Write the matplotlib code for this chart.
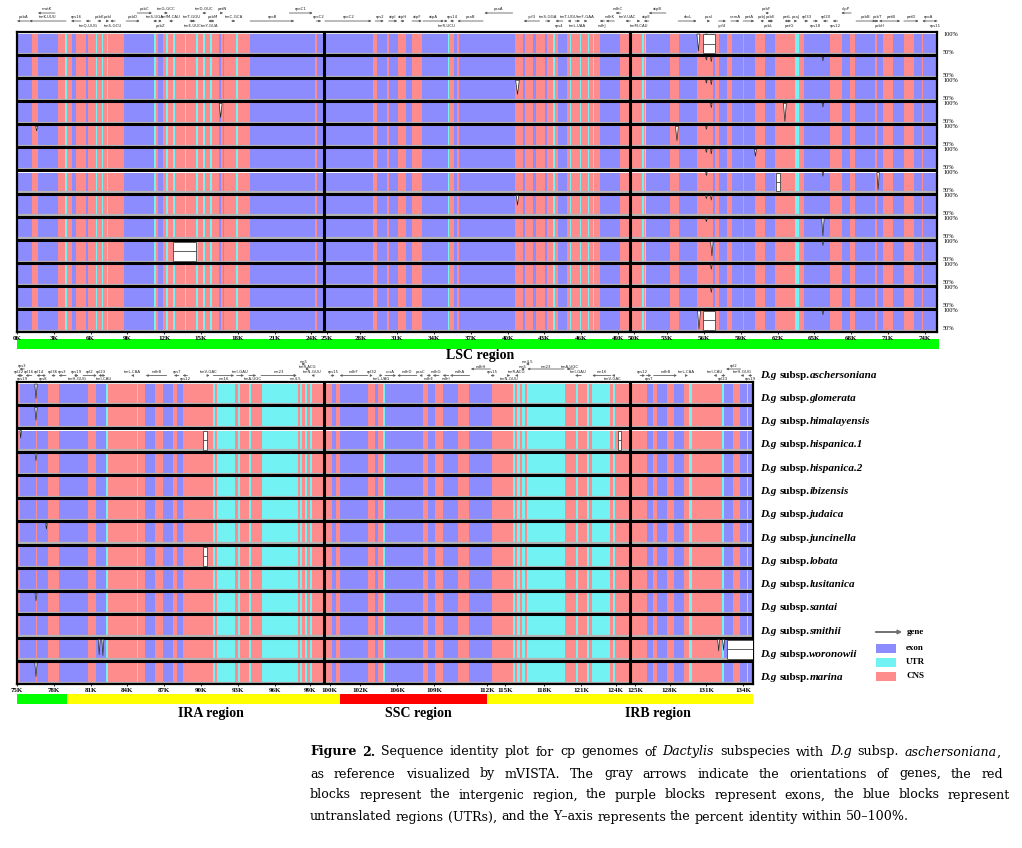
import re
import matplotlib
matplotlib.use('Agg')
import matplotlib.pyplot as plt
from matplotlib.patches import Rectangle, Polygon, FancyArrowPatch

W, H = 1022, 848

# ---- data: conserved blocks (start kb, end kb, kind) E=exon U=UTR C=CNS
top_segs = [
    (0.0, 1.2, 'E'), (1.2, 1.7, 'C'), (1.7, 3.35, 'E'), (3.35, 3.9, 'C'), (3.9, 4.05, 'U'),
    (4.05, 4.5, 'C'), (4.5, 4.8, 'E'), (4.8, 5.6, 'C'), (5.6, 5.8, 'E'), (5.8, 6.45, 'C'),
    (6.45, 6.55, 'U'), (6.55, 6.95, 'C'), (6.95, 7.05, 'U'), (7.05, 7.35, 'C'), (7.35, 7.45, 'U'),
    (7.45, 8.7, 'C'), (8.7, 11.15, 'E'), (11.15, 11.3, 'U'), (11.3, 11.5, 'C'), (11.5, 11.9, 'E'),
    (11.9, 12.15, 'C'), (12.15, 12.3, 'U'), (12.3, 12.7, 'C'), (12.7, 12.9, 'U'), (12.9, 13.7, 'C'),
    (13.7, 13.8, 'U'), (13.8, 14.6, 'C'), (14.6, 14.75, 'U'), (14.75, 15.15, 'C'), (15.15, 15.3, 'U'),
    (15.3, 15.75, 'C'), (15.75, 15.9, 'U'), (15.9, 16.45, 'C'), (16.45, 16.6, 'E'), (16.6, 16.8, 'C'),
    (16.8, 16.9, 'E'), (16.9, 17.85, 'C'), (17.85, 18.0, 'U'), (18.0, 19.0, 'C'), (19.0, 24.3, 'E'),
    (24.3, 24.45, 'C'), (24.45, 29.0, 'E'), (29.0, 29.35, 'C'), (29.35, 30.15, 'E'), (30.15, 30.3, 'C'),
    (30.3, 31.1, 'E'), (31.1, 31.7, 'C'), (31.7, 32.2, 'E'), (32.2, 33.0, 'C'), (33.0, 35.1, 'E'),
    (35.1, 35.25, 'U'), (35.25, 35.6, 'C'), (35.6, 35.85, 'E'), (35.85, 36.0, 'C'), (36.0, 40.6, 'E'),
    (40.6, 41.25, 'C'), (41.25, 41.4, 'E'), (41.4, 42.05, 'C'), (42.05, 42.3, 'E'), (42.3, 43.05, 'C'),
    (43.05, 43.2, 'E'), (43.2, 43.7, 'C'), (43.7, 43.85, 'U'), (43.85, 44.1, 'C'), (44.1, 44.85, 'E'),
    (44.85, 45.05, 'C'), (45.05, 45.2, 'U'), (45.2, 45.9, 'C'), (45.9, 46.0, 'U'), (46.0, 46.55, 'C'),
    (46.55, 46.65, 'U'), (46.65, 46.95, 'C'), (46.95, 47.05, 'U'), (47.05, 47.5, 'C'), (47.5, 49.15, 'E'),
    (49.15, 50.95, 'C'), (50.95, 51.1, 'U'), (51.1, 51.2, 'C'), (51.2, 51.3, 'U'), (51.3, 53.2, 'E'),
    (53.2, 53.95, 'C'), (53.95, 55.4, 'E'), (55.4, 56.75, 'C'), (56.75, 56.9, 'E'), (56.9, 57.2, 'C'),
    (57.2, 57.85, 'E'), (57.85, 58.25, 'C'), (58.25, 59.15, 'E'), (59.15, 59.25, 'C'), (59.25, 60.15, 'E'),
    (60.15, 60.95, 'C'), (60.95, 61.8, 'E'), (61.8, 63.4, 'C'), (63.4, 63.75, 'U'), (63.75, 64.15, 'C'),
    (64.15, 66.25, 'E'), (66.25, 67.25, 'C'), (67.25, 67.9, 'E'), (67.9, 68.3, 'C'), (68.3, 69.95, 'E'),
    (69.95, 70.1, 'C'), (70.1, 70.6, 'E'), (70.6, 71.45, 'C'), (71.45, 72.35, 'E'), (72.35, 73.1, 'C'),
    (73.1, 73.75, 'E'), (73.75, 73.85, 'C'), (73.85, 75.0, 'E'),
]

bot_segs = [
    (75.0, 75.25, 'C'), (75.25, 76.55, 'E'), (76.55, 76.65, 'C'), (76.65, 77.55, 'E'), (77.55, 78.4, 'C'),
    (78.4, 80.8, 'E'), (80.8, 81.45, 'C'), (81.45, 82.25, 'E'), (82.25, 82.4, 'U'), (82.4, 84.8, 'C'),
    (84.8, 84.9, 'U'), (84.9, 85.45, 'C'), (85.45, 86.25, 'E'), (86.25, 86.9, 'C'), (86.9, 87.7, 'E'),
    (87.7, 88.05, 'C'), (88.05, 88.55, 'E'), (88.55, 91.0, 'C'), (91.0, 91.15, 'U'), (91.15, 91.3, 'C'),
    (91.3, 92.75, 'U'), (92.75, 93.0, 'C'), (93.0, 93.15, 'U'), (93.15, 93.9, 'C'), (93.9, 94.05, 'U'),
    (94.05, 94.95, 'C'), (94.95, 97.9, 'U'), (97.9, 98.05, 'C'), (98.05, 98.2, 'U'), (98.2, 98.45, 'C'),
    (98.45, 98.65, 'U'), (98.65, 98.9, 'C'), (98.9, 99.05, 'U'), (99.05, 100.65, 'C'), (100.65, 101.0, 'E'),
    (101.0, 101.3, 'C'), (101.3, 103.6, 'E'), (103.6, 104.2, 'C'), (104.2, 104.4, 'E'), (104.4, 104.85, 'C'),
    (104.85, 105.0, 'U'), (105.0, 108.1, 'E'), (108.1, 108.5, 'C'), (108.5, 109.05, 'E'), (109.05, 109.7, 'C'),
    (109.7, 110.95, 'E'), (110.95, 111.85, 'C'), (111.85, 113.7, 'E'), (113.7, 115.4, 'C'), (115.4, 115.6, 'U'),
    (115.6, 115.8, 'C'), (115.8, 116.0, 'U'), (116.0, 116.15, 'C'), (116.15, 116.4, 'U'), (116.4, 116.55, 'C'),
    (116.55, 119.65, 'U'), (119.65, 120.55, 'C'), (120.55, 120.7, 'U'), (120.7, 121.45, 'C'), (121.45, 121.6, 'U'),
    (121.6, 121.85, 'C'), (121.85, 123.35, 'U'), (123.35, 123.55, 'C'), (123.55, 123.75, 'U'), (123.75, 126.35, 'C'),
    (126.35, 126.85, 'E'), (126.85, 127.15, 'C'), (127.15, 127.95, 'E'), (127.95, 128.55, 'C'), (128.55, 129.35, 'E'),
    (129.35, 129.75, 'C'), (129.75, 130.0, 'U'), (130.0, 132.45, 'C'), (132.45, 132.6, 'U'), (132.6, 133.35, 'E'),
    (133.35, 133.9, 'C'), (133.9, 134.5, 'E'), (134.5, 134.6, 'U'), (134.6, 135.0, 'E'),
]

# narrow drops in identity: (row, position kb, half width kb, lowest %)
top_dips = [
    (3, 62.6, 0.12, 52), (4, 53.8, 0.12, 62), (5, 60.2, 0.08, 82), (6, 70.2, 0.1, 55),
    (8, 65.7, 0.1, 55), (9, 56.65, 0.1, 62), (2, 40.8, 0.15, 62), (7, 40.8, 0.1, 75),
    (0, 55.55, 0.12, 55), (12, 55.6, 0.12, 52), (3, 16.6, 0.12, 62), (4, 1.6, 0.08, 88),
    (0, 56.2, 0.06, 92), (1, 56.2, 0.06, 92), (2, 56.2, 0.06, 92), (4, 56.2, 0.06, 92),
    (5, 56.2, 0.06, 92), (6, 56.2, 0.06, 92), (7, 56.2, 0.06, 92), (8, 56.2, 0.06, 92),
    (1, 56.6, 0.06, 88), (2, 56.6, 0.06, 88), (3, 56.6, 0.06, 88), (5, 56.6, 0.06, 88),
    (7, 56.6, 0.06, 88), (10, 56.6, 0.06, 88), (11, 56.6, 0.06, 88), (12, 65.7, 0.06, 90),
    (1, 65.7, 0.06, 90), (3, 65.7, 0.06, 90), (6, 65.7, 0.06, 90), (9, 65.7, 0.06, 90),
]
top_gaps = [(0, 55.95, 56.9), (9, 12.7, 14.6), (12, 55.95, 56.9), (6, 61.85, 62.2)]

bot_dips = [
    (0, 76.55, 0.1, 62), (1, 76.55, 0.1, 66), (3, 76.55, 0.08, 82), (9, 76.55, 0.08, 80),
    (12, 76.55, 0.1, 64), (11, 81.7, 0.08, 60), (11, 82.0, 0.08, 58), (11, 132.2, 0.08, 70),
    (11, 132.6, 0.08, 72), (6, 77.4, 0.06, 85), (2, 75.3, 0.06, 80),
]
bot_gaps = [(2, 90.2, 90.45), (7, 90.2, 90.45), (2, 124.0, 124.25), (11, 132.9, 135.0)]

# tick label positions (labels sit a little off the segment joins)
top_ticks = [0, 3, 6, 9, 12, 15, 18, 21, 24, 25.3, 28, 31, 34, 37, 40, 43, 46, 49, 50.3, 53, 56,
             59, 62, 65, 68, 71, 74]
top_tick_labels = ['0K', '3K', '6K', '9K', '12K', '15K', '18K', '21K', '24K', '25K', '28K', '31K',
                   '34K', '37K', '40K', '43K', '46K', '49K', '50K', '53K', '56K', '59K', '62K',
                   '65K', '68K', '71K', '74K']
bot_ticks = [75, 78, 81, 84, 87, 90, 93, 96, 98.9, 100.5, 103, 106, 109, 113.3, 114.8, 118, 121,
             123.8, 125.4, 128.2, 131.2, 134.2]
bot_tick_labels = ['75K', '78K', '81K', '84K', '87K', '90K', '93K', '96K', '99K', '100K', '102K',
                   '106K', '109K', '112K', '115K', '118K', '121K', '124K', '125K', '128K', '131K',
                   '134K']

# genes: (name, start kb, end kb, level, strand)
top_genes = [
    ('psbA', 0.0, 1.0, 1, -1), ('matK', 1.7, 3.1, 2, -1), ('trnK-UUU', 1.0, 4.0, 1, -1),
    ('rps16', 4.4, 5.2, 1, -1), ('trnQ-UUG', 5.6, 6.0, 0, -1), ('psbK', 6.6, 6.9, 1, 1),
    ('psbI', 7.3, 7.5, 1, 1), ('trnS-GCU', 7.6, 8.0, 0, -1), ('psbD', 8.9, 10.0, 1, 1),
    ('psbC', 9.8, 11.0, 2, 1), ('trnS-UGA', 11.1, 11.4, 1, -1), ('psbZ', 11.6, 11.8, 0, 1),
    ('trnG-GCC', 12.0, 12.3, 2, 1), ('trnfM-CAU', 12.4, 12.7, 1, -1), ('trnT-GGU', 14.1, 14.4, 1, 1),
    ('trnE-UUC', 14.2, 14.5, 0, -1), ('trnY-GUA', 15.6, 15.8, 0, -1), ('trnD-GUC', 15.1, 15.4, 2, -1),
    ('psbM', 15.9, 16.1, 1, 1), ('petN', 16.6, 16.8, 2, 1), ('trnC-GCA', 17.5, 17.8, 1, 1),
    ('rpoB', 19.0, 22.6, 1, 1), ('rpoC1', 22.2, 24.1, 2, 1), ('rpoC2', 24.4, 24.8, 1, 1),
    ('rpoC2', 25.1, 28.9, 1, 1), ('rps2', 29.2, 29.9, 1, 1), ('atpI', 30.3, 31.0, 1, 1),
    ('atpH', 31.3, 31.6, 1, 1), ('atpF', 32.2, 33.0, 1, 1), ('atpA', 33.1, 34.8, 1, 1),
    ('trnR-UCU', 34.9, 35.1, 0, 1), ('rps14', 35.3, 35.6, 1, -1), ('psaB', 35.9, 38.0, 1, -1),
    ('psaA', 38.1, 40.4, 2, -1), ('ycf3', 41.3, 42.6, 1, -1), ('trnS-GGA', 43.1, 43.5, 1, 1),
    ('rps4', 43.9, 44.5, 0, -1), ('trnT-UGU', 44.9, 45.1, 1, -1), ('trnL-UAA', 45.5, 45.9, 0, 1),
    ('trnF-GAA', 46.3, 46.5, 1, 1), ('ndhJ', 47.5, 47.9, 0, -1), ('ndhK', 48.0, 48.7, 1, -1),
    ('ndhC', 48.8, 49.2, 2, -1), ('trnV-UAC', 49.6, 50.0, 1, -1), ('trnM-CAU', 50.6, 50.8, 0, 1),
    ('atpE', 51.1, 51.5, 1, -1), ('atpB', 51.5, 52.9, 2, -1), ('rbcL', 53.9, 55.4, 1, 1),
    ('psaI', 56.3, 56.5, 1, 1), ('ycf4', 57.2, 57.8, 0, 1), ('cemA', 58.2, 58.9, 1, 1),
    ('petA', 59.2, 60.1, 1, 1), ('psbJ', 60.6, 60.8, 1, -1), ('psbF', 61.0, 61.2, 2, -1),
    ('psbL', 61.2, 61.3, 0, -1), ('psbE', 61.3, 61.6, 1, -1), ('petL', 62.7, 62.9, 1, 1),
    ('petG', 62.9, 63.1, 0, 1), ('psaJ', 63.4, 63.6, 1, 1), ('rpl33', 64.2, 64.5, 1, 1),
    ('rps18', 64.9, 65.3, 0, 1), ('rpl20', 65.7, 66.1, 1, -1), ('rps12', 66.5, 66.9, 0, -1),
    ('clpP', 67.2, 68.0, 2, -1), ('psbB', 68.4, 70.0, 1, 1), ('psbT', 70.1, 70.2, 1, 1),
    ('psbH', 70.3, 70.4, 0, -1), ('petB', 70.6, 72.0, 1, 1), ('petD', 72.3, 73.5, 1, 1),
    ('rpoA', 73.8, 74.7, 1, -1), ('rps11', 74.7, 75.0, 0, -1),
]
bot_genes = [
    ('rpl22', 75.0, 75.3, 1, -1), ('rps3', 75.2, 75.6, 2, -1), ('rps19', 75.3, 75.5, 0, 1),
    ('rpl16', 75.7, 76.2, 1, -1), ('rpl14', 76.6, 77.0, 1, -1), ('rps8', 77.0, 77.3, 0, -1),
    ('rpl36', 77.8, 78.1, 1, -1), ('rps3', 78.4, 79.0, 1, -1), ('rps19', 79.7, 80.0, 1, 1),
    ('trnH-GUG', 79.8, 80.0, 0, 1), ('rpl2', 80.4, 81.5, 1, 1), ('rpl23', 81.7, 82.0, 1, 1),
    ('trnI-CAU', 82.0, 82.2, 0, 1), ('trnL-CAA', 84.3, 84.5, 1, -1), ('ndhB', 85.5, 87.2, 1, -1),
    ('rps7', 87.8, 88.2, 1, -1), ('rps12', 88.5, 88.9, 0, -1), ('trnV-GAC', 90.5, 90.7, 1, 1),
    ('rrn16', 91.0, 92.7, 0, 1), ('trnI-GAU', 92.9, 93.5, 1, 1), ('trnA-UGC', 93.9, 94.5, 0, 1),
    ('rrn23', 94.9, 97.8, 1, 1), ('rrn4.5', 97.6, 97.8, 0, 1), ('rrn5', 98.3, 98.5, 3, 1),
    ('trnR-ACG', 98.6, 98.8, 2, 1), ('trnN-GUU', 99.0, 99.2, 1, -1), ('rps15', 100.6, 100.9, 1, 1),
    ('ndhF', 101.3, 103.6, 1, -1), ('rpl32', 103.8, 104.0, 1, 1), ('trnL-UAG', 104.6, 104.8, 0, 1),
    ('ccsA', 105.0, 105.9, 1, 1), ('ndhD', 106.0, 107.6, 1, -1), ('psaC', 107.8, 108.0, 1, -1),
    ('ndhE', 108.4, 108.7, 0, -1), ('ndhG', 108.9, 109.4, 1, -1), ('ndhI', 109.7, 110.2, 0, -1),
    ('ndhA', 110.3, 111.9, 1, -1), ('ndhH', 112.0, 113.6, 2, -1), ('rps15', 113.6, 113.9, 1, -1),
    ('trnN-GUU', 115.0, 115.2, 0, 1), ('trnR-ACG', 115.6, 115.8, 1, -1), ('rrn5', 116.1, 116.3, 2, -1),
    ('rrn4.5', 116.5, 116.7, 3, -1), ('rrn23', 116.6, 119.6, 2, -1), ('trnA-UGC', 119.8, 120.4, 2, -1),
    ('trnI-GAU', 120.5, 121.0, 1, -1), ('rrn16', 121.9, 123.4, 1, -1), ('trnV-GAC', 123.5, 123.7, 0, -1),
    ('rps12', 125.8, 126.2, 1, 1), ('rps7', 126.3, 126.7, 0, 1), ('ndhB', 126.9, 128.8, 1, 1),
    ('trnL-CAA', 129.5, 129.7, 1, 1), ('trnI-CAU', 131.8, 132.0, 1, -1), ('rpl23', 132.4, 132.7, 0, -1),
    ('rpl2', 132.8, 134.0, 2, -1), ('trnH-GUG', 134.0, 134.2, 1, -1), ('rps19', 134.6, 134.9, 0, -1),
]

species = ['aschersoniana', 'glomerata', 'himalayensis', 'hispanica.1', 'hispanica.2', 'ibizensis',
           'judaica', 'juncinella', 'lobata', 'lusitanica', 'santai', 'smithii', 'woronowii', 'marina']

caption = [
    "**Figure 2.** Sequence identity plot for cp genomes of *Dactylis* subspecies with *D.g* subsp. *aschersoniana*,",
    "as reference visualized by mVISTA. The gray arrows indicate the orientations of genes, the red",
    "blocks represent the intergenic region, the purple blocks represent exons, the blue blocks represent",
    "untranslated regions (UTRs), and the Y\u2013axis represents the percent identity within 50\u2013100%.",
]

COLORS = {'E': '#8c8cff', 'U': '#72f2f2', 'C': '#ff8c8c'}
SERIF = 'Liberation Serif'
CAP_FONT = 'DejaVu Serif'
NROW = 13


def fx(px):
    return px / W


def fy(py):
    return 1 - py / H


def ident_y(r, pct):
    return r + 0.09 + (100 - pct) / 50.0 * 0.82


def draw_panel(ax, segs, xlo, xhi, dips, gaps, breaks):
    ax.set_xlim(xlo, xhi)
    ax.set_ylim(NROW, 0)
    for r in range(NROW):
        for key in 'ECU':
            xr = [(s, e - s) for s, e, k in segs if k == key]
            ax.broken_barh(xr, (r + 0.09, 0.82), facecolors=COLORS[key], edgecolor='none')
        ax.plot([xlo, xhi], [r + 0.945, r + 0.945], color='#b4b4b4', lw=1.6, solid_capstyle='butt')
        if r > 0:
            ax.plot([xlo, xhi], [r, r], color='black', lw=2.2, solid_capstyle='butt')
    for r, x, hw, pct in dips:
        ax.add_patch(Polygon([(x - hw, r + 0.09), (x, ident_y(r, pct)), (x + hw, r + 0.09)],
                             closed=True, fc='white', ec='#222222', lw=0.5, zorder=3))
    for r, x0, x1 in gaps:
        ax.add_patch(Rectangle((x0, r + 0.09), x1 - x0, 0.82, fc='white', ec='#444444', lw=0.6, zorder=3))
        ax.plot([x0, x1], [r + 0.5, r + 0.5], color='#444444', lw=0.6, zorder=4)
    for b in breaks:
        ax.axvline(b, color='black', lw=2.2, zorder=5)
    for sp in ax.spines.values():
        sp.set_linewidth(1.6)
    ax.set_yticks([])


def draw_genes(ax, genes, top_px, row_px, lab_px, arr_px):
    for name, s, e, lvl, strand in genes:
        ya = (arr_px[lvl] - top_px) / row_px
        yl = (lab_px[lvl] - top_px) / row_px
        x0, x1 = (s, e) if strand > 0 else (e, s)
        ax.annotate('', xy=(x1, ya), xytext=(x0, ya), annotation_clip=False,
                    arrowprops=dict(arrowstyle='-|>', color='#606060', lw=0.6,
                                    mutation_scale=3, shrinkA=0, shrinkB=0))
        ax.text((s + e) / 2, yl, name, fontsize=2.8, ha='center', va='center', color='#222222')


def measure_runs(fig, renderer, y_px, runs, size, family):
    items = []
    for word in runs:
        parts = []
        for txt, weight, style in word:
            t = fig.text(0, fy(y_px), txt, fontsize=size, family=family, fontweight=weight,
                         fontstyle=style, va='center', ha='left')
            parts.append((t, t.get_window_extent(renderer).width))
        items.append(parts)
    return items


def place_runs(items, x_px, gap):
    x = x_px
    for parts in items:
        for t, bw in parts:
            t.set_x(fx(x))
            x += bw
        x += gap
    return x


def parse_markup(line):
    words = [[]]
    for part in re.split(r'(\*\*[^*]+\*\*|\*[^*]+\*)', line):
        if not part:
            continue
        if part.startswith('**'):
            weight, style, txt = 'bold', 'normal', part[2:-2]
        elif part.startswith('*'):
            weight, style, txt = 'normal', 'italic', part[1:-1]
        else:
            weight, style, txt = 'normal', 'normal', part
        for k, p in enumerate(txt.split(' ')):
            if k > 0:
                words.append([])
            if p:
                words[-1].append((p, weight, style))
    return [w for w in words if w]


fig = plt.figure(figsize=(W / 100, H / 100), dpi=100)
renderer = fig.canvas.get_renderer()

# top panel (LSC)
ax_t = fig.add_axes([fx(17), fy(332), 920 / W, 300 / H])
draw_panel(ax_t, top_segs, 0, 75, top_dips, top_gaps, [25, 50])
ax_t.set_xticks(top_ticks, top_tick_labels)
draw_genes(ax_t, top_genes, 32, 300 / NROW,
           {2: 9, 1: 16.5, 0: 25.5}, {2: 13, 1: 21, 0: 21})

# bottom panel (IRA, SSC, IRB)
ax_b = fig.add_axes([fx(17), fy(684), 736 / W, 302 / H])
draw_panel(ax_b, bot_segs, 75, 135, bot_dips, bot_gaps, [100, 125])
ax_b.set_xticks(bot_ticks, bot_tick_labels)
draw_genes(ax_b, bot_genes, 382, 302 / NROW,
           {3: 362, 2: 366.5, 1: 372, 0: 379}, {3: 364, 2: 369, 1: 375.5, 0: 375.5})

for ax in (ax_t, ax_b):
    ax.tick_params(axis='x', length=1.5, width=0.6, pad=1.2)
    for lab in ax.get_xticklabels():
        lab.set_fontsize(5)
        lab.set_fontweight('bold')
        lab.set_family(SERIF)

# region bars
ax_t.add_patch(Rectangle((0, 13.3), 75.2, 0.42, fc='#00ff00', ec='none', clip_on=False))
fig.text(fx(480), fy(356), 'LSC region', fontsize=10, fontweight='bold', family=SERIF,
         ha='center', va='center')
region_spans = [(75.0, 79.1, '#00ff00'), (79.1, 101.3, '#ffff00'), (101.3, 113.3, '#ff0000'),
                (113.3, 135.0, '#ffff00')]
for s, e, c in region_spans:
    ax_b.add_patch(Rectangle((s, 13.45), e - s, 0.42, fc=c, ec='none', clip_on=False))
for x, name in [(211, 'IRA region'), (418, 'SSC region'), (658, 'IRB region')]:
    fig.text(fx(x), fy(714), name, fontsize=10, fontweight='bold', family=SERIF,
             ha='center', va='center')

# percent labels on the right of the top panel
row_t = 300 / NROW
for r in range(NROW):
    if r != 1:
        fig.text(fx(943), fy(32 + r * row_t + 2), '100%', fontsize=4.6, family=SERIF,
                 va='center', ha='left')
    fig.text(fx(943), fy(32 + (r + 1) * row_t - 3), '50%', fontsize=4.6, family=SERIF,
             va='center', ha='left')

# species labels
for i, sp in enumerate(species):
    y = 375 + i * 23.3
    items = measure_runs(fig, renderer, y,
                         [[('D.g', 'bold', 'italic')],
                          [('subsp.', 'bold', 'normal'), (sp, 'bold', 'italic')]], 8, SERIF)
    place_runs(items, 760, 3)

# legend
fig.add_artist(FancyArrowPatch((fx(873), fy(632)), (fx(905), fy(632)), transform=fig.transFigure,
                               arrowstyle='-|>', color='#707070', lw=1.4, mutation_scale=5))
fig.text(fx(907), fy(632), 'gene', fontsize=6.5, fontweight='bold', family=SERIF, va='center')
for k, (lab, key) in enumerate([('exon', 'E'), ('UTR', 'U'), ('CNS', 'C')]):
    yc = 648 + 14 * k
    fig.add_artist(Rectangle((fx(876), fy(yc + 4.5)), 20 / W, 9 / H, fc=COLORS[key], ec='none',
                             transform=fig.transFigure))
    fig.text(fx(906), fy(yc), lab, fontsize=6.5, fontweight='bold', family=SERIF, va='center')

# caption: pick the size so the last (unjustified) line ends where it does in the figure
cap_y = [752, 774, 795, 817]
cap_end = [1001, 1003, 1010, 906]
probe = measure_runs(fig, renderer, 0, parse_markup(caption[3]), 10, CAP_FONT)
space_probe = fig.text(0, 0, 'a a', fontsize=10, family=CAP_FONT)
aa_probe = fig.text(0, 0, 'aa', fontsize=10, family=CAP_FONT)
sp10 = space_probe.get_window_extent(renderer).width - aa_probe.get_window_extent(renderer).width
nat = sum(bw for parts in probe for _, bw in parts) + sp10 * (len(probe) - 1)
for parts in probe:
    for t, _ in parts:
        t.remove()
space_probe.remove()
aa_probe.remove()
cap_size = 10 * (cap_end[3] - 310) / nat
for k, (line, y, end) in enumerate(zip(caption, cap_y, cap_end)):
    items = measure_runs(fig, renderer, y, parse_markup(line), cap_size, CAP_FONT)
    total = sum(bw for parts in items for _, bw in parts)
    if k < 3:
        gap = (end - 310 - total) / (len(items) - 1)
    else:
        gap = sp10 * cap_size / 10
    place_runs(items, 310, gap)

fig.savefig('out.png', dpi=100)
